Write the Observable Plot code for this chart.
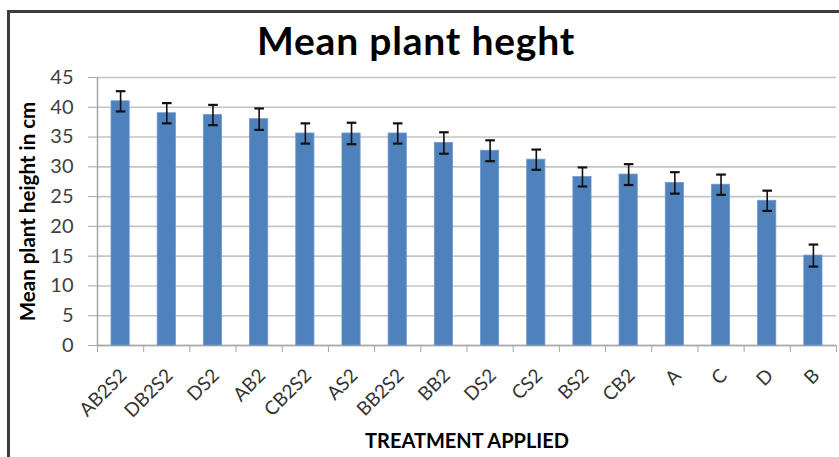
<!DOCTYPE html>
<html>
<head>
<meta charset="utf-8">
<script src="https://cdn.jsdelivr.net/npm/d3@7"></script>
<script src="https://cdn.jsdelivr.net/npm/@observablehq/plot@0.6"></script>
<style>
  html, body { margin: 0; padding: 0; background: #fff; }
  #wrap { position: relative; width: 839px; height: 457px; overflow: hidden; background: #fff; font-family: Lato, "Open Sans", sans-serif; }
  #frame { position: absolute; left: 7px; top: 10px; width: 900px; height: 500px; border-left: 3px solid #3d3d3d; border-top: 3px solid #3d3d3d; z-index: 2; pointer-events: none; }
  #title { position: absolute; left: 0; top: 21px; width: 832px; text-align: center; font-size: 39px; line-height: 39px; letter-spacing: 0.8px; font-weight: bold; color: #000; }
  #chart { position: absolute; left: 0; top: 62px; z-index: 1; }
</style>
</head>
<body>
<div id="wrap">
  <div id="frame"></div>
  <div id="title">Mean plant heght</div>
  <div id="chart"></div>
</div>
<script>
const categories = ["AB2S2", "DB2S2", "DS2", "AB2", "CB2S2", "AS2", "BB2S2", "BB2", "DS2", "CS2", "BS2", "CB2", "A", "C", "D", "B"];
const means = [41.0, 39.0, 38.7, 38.0, 35.6, 35.6, 35.6, 34.0, 32.7, 31.2, 28.3, 28.7, 27.3, 27.0, 24.3, 15.1];
const errors = [1.7, 1.7, 1.7, 1.8, 1.7, 1.8, 1.7, 1.8, 1.75, 1.7, 1.6, 1.75, 1.8, 1.7, 1.7, 1.85];
const yTicks = [0, 5, 10, 15, 20, 25, 30, 35, 40, 45];
const yLabel = "Mean plant height in cm";
const xLabel = "TREATMENT APPLIED";

const data = categories.map((c, i) => ({i, c, m: means[i], e: errors[i]}));
const caps = data.flatMap(d => [{i: d.i, v: d.m - d.e}, {i: d.i, v: d.m + d.e}]);

const capSymbol = {
  draw(context, size) {
    const r = Math.sqrt(size / Math.PI);
    context.moveTo(-r, 0);
    context.lineTo(r, 0);
  }
};

const chart = Plot.plot({
  width: 839,
  height: 395,
  marginLeft: 97,
  marginRight: 3,
  marginTop: 15,
  marginBottom: 112,
  x: {domain: [0, categories.length], axis: null},
  y: {domain: [0, 45], axis: null},
  style: {fontFamily: "Lato, 'Open Sans', sans-serif", background: "transparent", color: "#404040", overflow: "visible"},
  marks: [
    Plot.gridY(yTicks, {stroke: "#c4c4c4", strokeOpacity: 1, strokeWidth: 1.6}),
    Plot.axisY({ticks: yTicks, tickSize: 9, tickPadding: 15, fontSize: 20, stroke: "#a6a6a6", fill: "#404040", label: null}),
    Plot.axisX({ticks: d3.range(categories.length + 1), tickSize: 7, tickFormat: () => "", stroke: "#a6a6a6", label: null}),
    Plot.ruleX([0], {stroke: "#a6a6a6", strokeWidth: 1.5}),
    Plot.ruleY([0], {stroke: "#a6a6a6", strokeWidth: 1.5}),
    Plot.rectY(data, {x1: "i", x2: d => d.i + 1, y: "m", fill: "#4f81bd", stroke: "#6f97c9", strokeWidth: 0.8, insetLeft: 14, insetRight: 14}),
    Plot.ruleX(data, {x: d => d.i + 0.5, y1: d => d.m - d.e, y2: d => d.m + d.e, stroke: "#111", strokeWidth: 1.6}),
    Plot.dot(caps, {x: d => d.i + 0.5, y: "v", symbol: capSymbol, r: 4.8, stroke: "#111", strokeWidth: 2.2}),
    Plot.text(data, {x: d => d.i + 0.5, y: () => 0, text: "c", rotate: -45, textAnchor: "end", dx: 3, dy: 27, fontSize: 19, fill: "#333"}),
    Plot.text([yLabel], {frameAnchor: "left", textAnchor: "middle", rotate: -90, dx: -69, fontSize: 20.5, fontWeight: "bold", fill: "#000"}),
    Plot.text([xLabel], {frameAnchor: "bottom", textAnchor: "middle", dy: 102, fontSize: 20, letterSpacing: 0.5, fontWeight: "bold", fill: "#000"})
  ]
});
document.getElementById("chart").appendChild(chart);
</script>
</body>
</html>
